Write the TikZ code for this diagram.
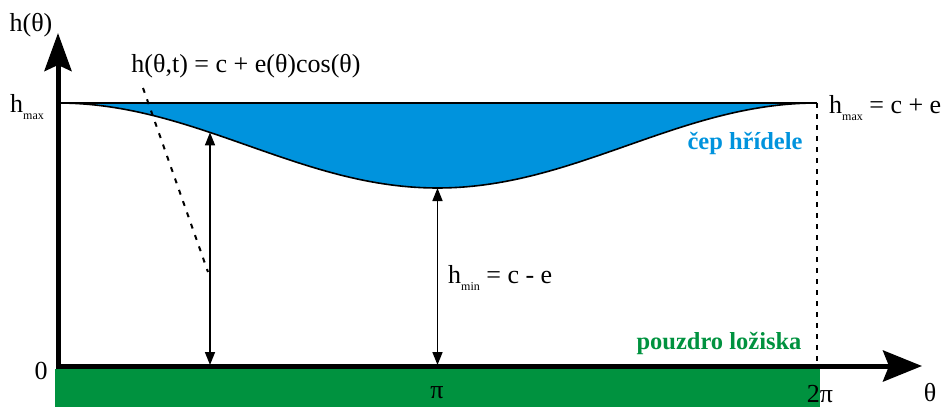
\documentclass[tikz,border=0pt]{standalone}
\usepackage{fontspec}
\setmainfont{Liberation Serif}
\newfontfamily\tmsfont{Liberation Serif}
\usetikzlibrary{arrows.meta}
\definecolor{shaftblue}{RGB}{0,147,221}
\definecolor{bushgreen}{RGB}{0,146,63}
\newcommand{\lowsub}[1]{\raisebox{-0.3em}{\fontsize{12}{12}\selectfont #1}}
\begin{document}
\begin{tikzpicture}[x=1pt,y=-1pt,
  lbl/.style={inner sep=0pt, font=\tmsfont\fontsize{26}{29}\selectfont},
  boldlbl/.style={inner sep=0pt, font=\tmsfont\fontsize{24.5}{28}\selectfont\bfseries},
  axis/.style={line width=5pt, {Stealth[length=38pt,width=27pt,inset=6pt]}-{Stealth[length=39pt,width=31pt,inset=6pt]}},
  meas/.style={line width=1.6pt, {Triangle[length=13pt,width=10pt]}-{Triangle[length=13pt,width=10pt]}},
  dashline/.style={line width=2pt, dash pattern=on 5pt off 6pt}]
\useasboundingbox (0,0) rectangle (949,407);
% bearing shell
\fill[bushgreen] (55,369) rectangle (820,407);
% shaft journal
\fill[shaftblue] plot[domain=0:360,samples=120] ({58+\x/360*759},{145.5-42.5*cos(\x)}) -- cycle;
\draw[line width=1.6pt] plot[domain=0:360,samples=120] ({58+\x/360*759},{145.5-42.5*cos(\x)});
% coordinates
\coordinate (o) at (58,366);
\coordinate (ytip) at (58,33);
\coordinate (xtip) at (922,366);
\coordinate (hl) at (58,103);
\coordinate (hr) at (817,103);
\coordinate (hb) at (817,366);
\coordinate (c1) at (210,132.4);
\coordinate (b1) at (210,365);
\coordinate (c2) at (437.5,188);
\coordinate (b2) at (437.5,365);
\coordinate (d1) at (143,88);
\coordinate (d2) at (208,272);
% hmax line and dashed end
\draw[line width=2pt] (hl) -- (hr);
\draw[dashline] (hr) -- (hb);
% axes
\draw[axis] (ytip) -- (o) -- (xtip);
% measurement arrows
\draw[meas] (c1) -- (b1);
\draw[meas] (c2) -- (b2);
% leader line
\draw[dashline, dash pattern=on 5pt off 7pt] (d1) -- (d2);
% labels
\node[lbl] (hth) at (31,25) {h(θ)};
\node[lbl] (form) at (246,66) {h(θ,t) = c + e(θ)cos(θ)};
\node[lbl, anchor=base west] (hmaxl) at (10,112) {h\lowsub{max}};
\node[lbl, anchor=base west] (hmaxr) at (829,113) {h\lowsub{max} = c + e};
\node[boldlbl, text=shaftblue] (cep) at (745,143) {čep hřídele};
\node[boldlbl, text=bushgreen] (pouz) at (719,343) {pouzdro ložiska};
\node[lbl, anchor=base west] (hmin) at (448,283) {h\lowsub{min} = c - e};
\node[lbl] (zero) at (41,371) {0};
\node[lbl] (pi) at (437,393) {π};
\node[lbl] (twopi) at (820,394) {2π};
\node[lbl] (theta) at (930,393) {θ};
\end{tikzpicture}
\end{document}
